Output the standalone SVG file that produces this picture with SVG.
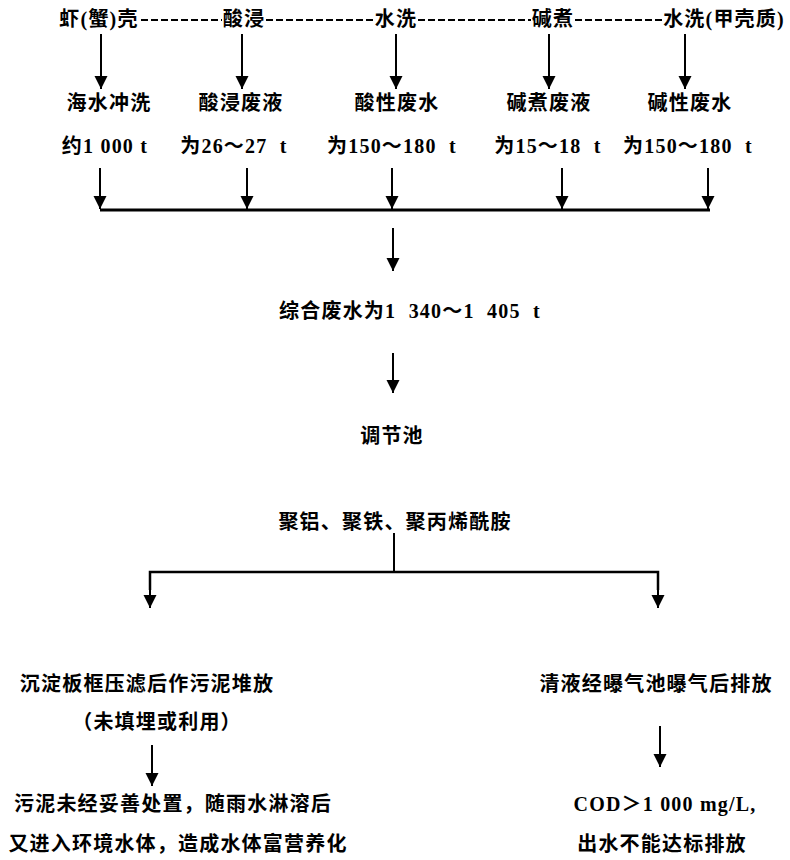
<svg xmlns="http://www.w3.org/2000/svg" width="790" height="860" viewBox="0 0 790 860">
<style>
text{font-family:"Liberation Serif","Noto Sans CJK SC",serif;font-size:20px;font-weight:bold;fill:#000;text-anchor:middle;letter-spacing:1.2px}
.ln{stroke:#000;stroke-width:2;fill:none}
.bus{stroke:#000;stroke-width:3;fill:none}
.dash{stroke:#000;stroke-width:2;stroke-dasharray:7 3;fill:none}
.ar{stroke:#000;stroke-width:2;fill:none;marker-end:url(#ah)}
</style>
<defs>
<marker id="ah" markerUnits="userSpaceOnUse" markerWidth="14" markerHeight="14" refX="13" refY="6.5" orient="auto">
<path d="M0,0 L13,6.5 L0,13 Z" fill="#000"/>
</marker>
</defs>
<rect width="790" height="860" fill="#fff"/>
<g id="connectors">
<line class="dash" x1="141" y1="20" x2="222" y2="20"/>
<line class="dash" x1="266" y1="20" x2="375" y2="20"/>
<line class="dash" x1="418" y1="20" x2="531" y2="20"/>
<line class="dash" x1="575" y1="20" x2="662" y2="20"/>
<line class="ar" x1="101" y1="34" x2="101" y2="89"/>
<line class="ar" x1="242" y1="34" x2="242" y2="89"/>
<line class="ar" x1="396" y1="34" x2="396" y2="89"/>
<line class="ar" x1="549" y1="34" x2="549" y2="89"/>
<line class="ar" x1="685" y1="34" x2="685" y2="89"/>
<line class="ar" x1="100" y1="168" x2="100" y2="209"/>
<line class="ar" x1="247" y1="168" x2="247" y2="209"/>
<line class="ar" x1="392" y1="168" x2="392" y2="209"/>
<line class="ar" x1="562" y1="168" x2="562" y2="209"/>
<line class="ar" x1="708" y1="168" x2="708" y2="209"/>
<line class="bus" x1="100" y1="210" x2="710" y2="210"/>
<line class="ar" x1="393" y1="228" x2="393" y2="271"/>
<line class="ar" x1="393" y1="353" x2="393" y2="393"/>
<line class="ln" x1="394" y1="533" x2="394" y2="572"/>
<polyline class="bus" points="150,590 150,572 658,572 658,590" style="stroke-width:2.5"/>
<line class="ar" x1="150" y1="590" x2="150" y2="608"/>
<line class="ar" x1="658" y1="590" x2="658" y2="608"/>
<line class="ar" x1="152" y1="745" x2="152" y2="786"/>
<line class="ar" x1="660" y1="726" x2="660" y2="767"/>
</g>
<g id="n-shell"><text x="99" y="26">虾(蟹)壳</text></g>
<g id="n-acid"><text x="244" y="26">酸浸</text></g>
<g id="n-wash1"><text x="396" y="26">水洗</text></g>
<g id="n-alkali"><text x="553" y="26">碱煮</text></g>
<g id="n-wash2"><text x="724" y="26">水洗(甲壳质)</text></g>
<g id="n-sea"><text x="109" y="110">海水冲洗</text><text x="105" y="153">约1 000 t</text></g>
<g id="n-acidwaste"><text x="241" y="110">酸浸废液</text><text x="234" y="153">为26～27&#160; t</text></g>
<g id="n-acidwater"><text x="397" y="110">酸性废水</text><text x="392" y="153">为150～180&#160; t</text></g>
<g id="n-alkaliwaste"><text x="549" y="110">碱煮废液</text><text x="548" y="153">为15～18&#160; t</text></g>
<g id="n-alkaliwater"><text x="690" y="110">碱性废水</text><text x="688" y="153">为150～180&#160; t</text></g>
<g id="n-total"><text x="410" y="318">综合废水为1&#160; 340～1&#160; 405&#160; t</text></g>
<g id="n-pool"><text x="392" y="443">调节池</text></g>
<g id="n-agents"><text x="395" y="529">聚铝、聚铁、聚丙烯酰胺</text></g>
<g id="n-sludge"><text x="147" y="691">沉淀板框压滤后作污泥堆放</text><text x="157" y="729">（未填埋或利用）</text></g>
<g id="n-clear"><text x="656" y="691">清液经曝气池曝气后排放</text></g>
<g id="n-impact"><text x="173" y="811">污泥未经妥善处置，随雨水淋溶后</text><text x="178" y="851">又进入环境水体，造成水体富营养化</text></g>
<g id="n-cod"><text x="665" y="811">COD＞1 000 mg/L,</text><text x="662" y="851">出水不能达标排放</text></g>
</svg>
